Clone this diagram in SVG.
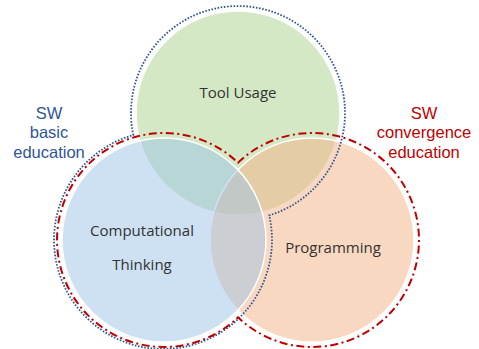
<svg xmlns="http://www.w3.org/2000/svg" width="479" height="349" viewBox="0 0 479 349">
  <style>
    .set { stroke: #ffffff; stroke-width: 1.5; fill-opacity: 0.5; }
    .label { font-family: "Open Sans", "Noto Sans", sans-serif; font-size: 15px; fill: #333333; text-anchor: middle; }
    .group-label { font-family: "Liberation Sans", Arial, sans-serif; font-size: 16.5px; text-anchor: middle; }
    .basic { fill: #2F5597; }
    .convergence { fill: #C00000; }
    .outline-basic { fill: none; stroke: #2F5597; stroke-width: 1.8; stroke-dasharray: 1.6 1.6; }
    .outline-conv { fill: none; stroke: #C00000; stroke-width: 2; stroke-dasharray: 8 3.5 2 3.5; }
  </style>
  <rect width="479" height="349" fill="#ffffff"/>

  <g id="tool-usage">
    <circle class="set" cx="238" cy="113" r="102" fill="#A9D18E"/>
    <text class="label" x="238" y="98">Tool Usage</text>
  </g>

  <g id="programming">
    <circle class="set" cx="312" cy="240" r="102" fill="#F4B183"/>
  </g>

  <g id="computational-thinking">
    <circle class="set" cx="164" cy="240" r="102" fill="#9DC3E6"/>
  </g>

  <g id="set-labels">
    <text class="label" x="142" y="236">Computational</text>
    <text class="label" x="142" y="270">Thinking</text>
    <text class="label" x="333" y="253">Programming</text>
  </g>

  <g id="connectors">
    <!-- SW basic education: Tool Usage + Computational Thinking -->
    <path class="outline-basic" d="M 133.3 135.1 A 107 107 0 1 1 269.2 215.4 A 109 109 0 1 1 133.3 135.1 Z"/>
    <!-- SW convergence education: Computational Thinking + Programming -->
    <path class="outline-conv" d="M 238 162.7 A 107 107 0 1 1 238 317.3 A 107 107 0 1 1 238 162.7 Z"/>
  </g>

  <g id="sw-basic-education">
    <text class="group-label basic" x="49" y="118.5">SW</text>
    <text class="group-label basic" x="49" y="138">basic</text>
    <text class="group-label basic" x="49" y="157.5">education</text>
  </g>

  <g id="sw-convergence-education">
    <text class="group-label convergence" x="424" y="118.5">SW</text>
    <text class="group-label convergence" x="424" y="138">convergence</text>
    <text class="group-label convergence" x="424" y="157.5">education</text>
  </g>
</svg>
